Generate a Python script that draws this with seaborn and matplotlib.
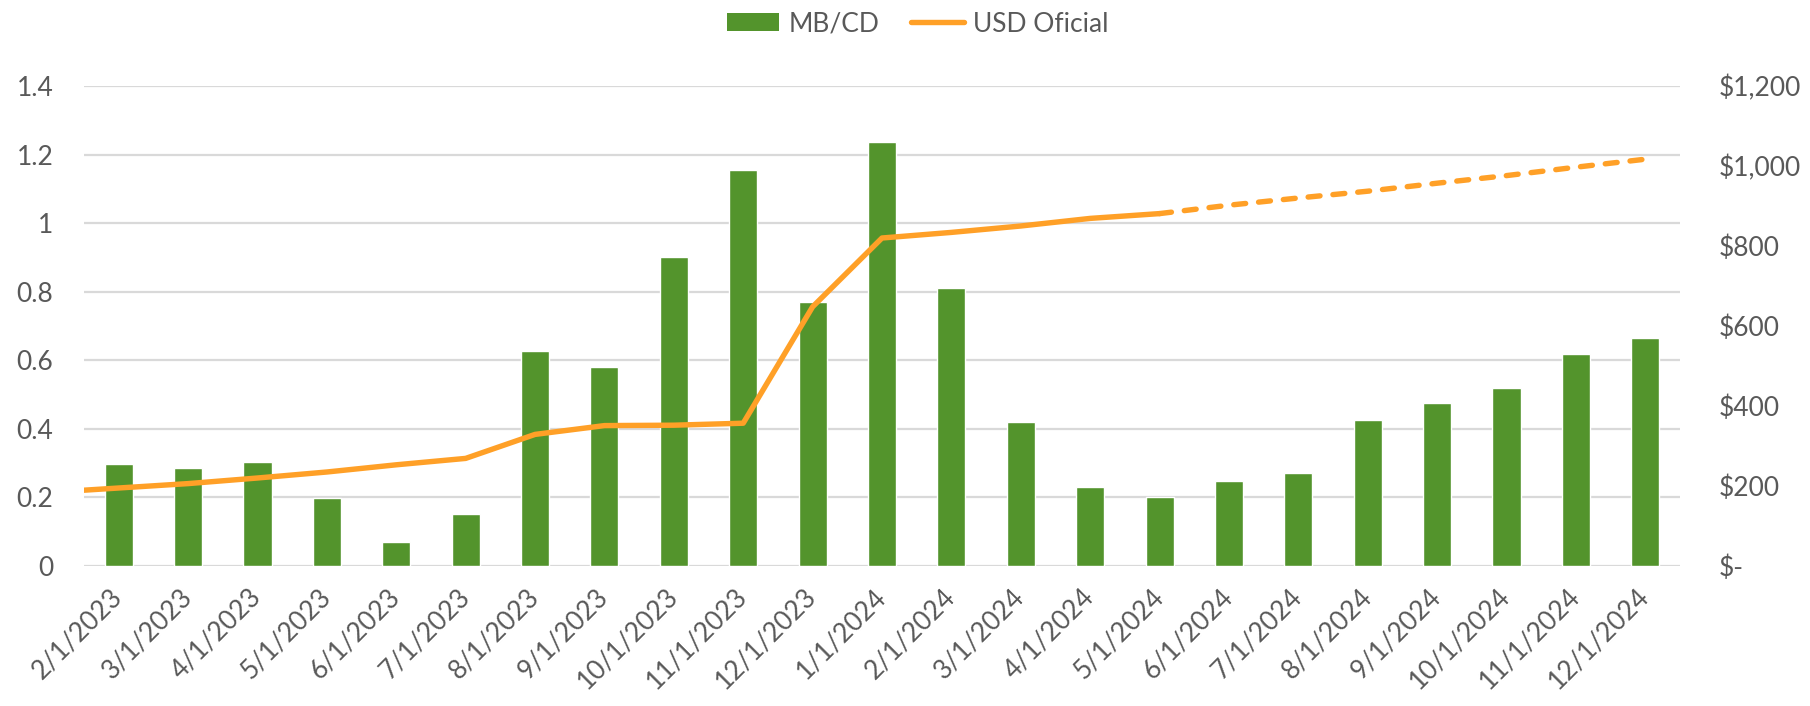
import numpy as np
import pandas as pd
import matplotlib
matplotlib.use("Agg")
import matplotlib.pyplot as plt
from matplotlib.lines import Line2D
from matplotlib.patches import Patch
import seaborn as sns

# ---- data ----
dates = ["2/1/2023", "3/1/2023", "4/1/2023", "5/1/2023", "6/1/2023", "7/1/2023",
         "8/1/2023", "9/1/2023", "10/1/2023", "11/1/2023", "12/1/2023", "1/1/2024",
         "2/1/2024", "3/1/2024", "4/1/2024", "5/1/2024", "6/1/2024", "7/1/2024",
         "8/1/2024", "9/1/2024", "10/1/2024", "11/1/2024", "12/1/2024"]
mb_cd = [0.297, 0.285, 0.303, 0.199, 0.070, 0.152, 0.627, 0.580, 0.900, 1.155,
         0.771, 1.237, 0.812, 0.421, 0.229, 0.200, 0.247, 0.270, 0.427, 0.474,
         0.520, 0.619, 0.666]
usd_oficial = [195, 206, 220, 235, 253, 269, 329, 351, 352, 357, 648, 820, 834,
               850, 869, 881, 902, 920, 937, 957, 976, 997, 1017]
usd_prev_month = 184          # Jan 2023 value, only visible as the clipped start of the line
n_actual = 16                 # USD values up to 5/1/2024 are actual, later ones projected
left_ticks = [0, 0.2, 0.4, 0.6, 0.8, 1, 1.2, 1.4]
right_ticks = [0, 200, 400, 600, 800, 1000, 1200]
right_tick_labels = ["$-", "$200", "$400", "$600", "$800", "$1,000", "$1,200"]

GREEN = "#53942C"
ORANGE = "#FFA027"
GRID = "#D9D9D9"
TEXT = "#595959"
FS = 19

sns.set_theme(style="white")
plt.rcParams["font.family"] = ["Lato", "DejaVu Sans"]

fig = plt.figure(figsize=(18.10, 7.06), dpi=100)
ax = fig.add_axes([84 / 1810, 1 - 566 / 706, (1680 - 84) / 1810, (566 - 86) / 706])

df = pd.DataFrame({"fecha": dates, "mbcd": mb_cd})
sns.barplot(data=df, x="fecha", y="mbcd", order=dates, color=GREEN, width=0.405,
            saturation=1, ax=ax, zorder=2)
ax.set_ylim(0, 1.4)
ax.set_yticks(left_ticks)
ax.set_yticklabels([f"{t:g}" for t in left_ticks])
ax.set_xlabel("")
ax.set_ylabel("")
ax.yaxis.grid(True, color=GRID, linewidth=1.6, zorder=0)
ax.set_axisbelow(True)
for s in ax.spines.values():
    s.set_visible(False)
ax.tick_params(axis="y", length=0, pad=22, labelsize=FS, labelcolor=TEXT)
ax.tick_params(axis="x", length=0, pad=19, labelsize=FS, labelcolor=TEXT)
plt.setp(ax.get_xticklabels(), rotation=45, ha="right", va="center",
         rotation_mode="anchor")

# ---- secondary axis line ----
ax2 = ax.twinx()
idx = np.arange(len(dates))
solid_x = np.concatenate([[-1], idx[:n_actual]])
solid_y = np.concatenate([[usd_prev_month], usd_oficial[:n_actual]])
dash_x = idx[n_actual - 1:]
dash_y = usd_oficial[n_actual - 1:]
sns.lineplot(x=solid_x, y=solid_y, ax=ax2, color=ORANGE, linewidth=3.9,
             solid_capstyle="round", solid_joinstyle="round", sort=False)
sns.lineplot(x=dash_x, y=dash_y, ax=ax2, color=ORANGE, linewidth=3.9, sort=False)
ax2.lines[-1].set_dashes((2.2, 2.4))
ax2.lines[-1].set_dash_capstyle("round")
ax2.set_xlim(-0.5, len(dates) - 0.5)
ax.set_xlim(-0.5, len(dates) - 0.5)
ax2.set_ylim(0, 1200)
ax2.set_yticks(right_ticks)
ax2.set_yticklabels(right_tick_labels)
ax2.set_ylabel("")
ax2.grid(False)
for s in ax2.spines.values():
    s.set_visible(False)
ax2.tick_params(axis="y", length=0, pad=28, labelsize=FS, labelcolor=TEXT)

handles = [Patch(facecolor=GREEN, edgecolor="none", label="MB/CD"),
           Line2D([0], [0], color=ORANGE, linewidth=3.9, solid_capstyle="round",
                  label="USD Oficial")]
fig.legend(handles=handles, loc="center", bbox_to_anchor=(0.507, 0.966), ncol=2,
           frameon=False, fontsize=FS, labelcolor=TEXT, handlelength=2.0,
           handleheight=0.65, handletextpad=0.35, columnspacing=1.2)

fig.savefig("out.png", dpi=100, facecolor="white")
